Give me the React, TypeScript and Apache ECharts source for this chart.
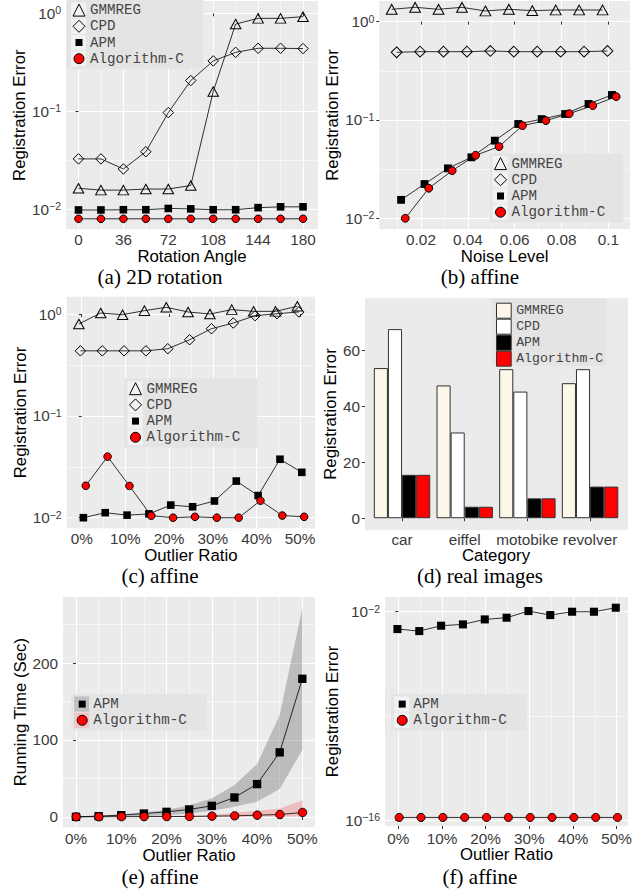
import React, { useEffect, useRef } from 'react';
import * as echarts from 'echarts';

// ---------------- data ----------------
const seriesNames = ['GMMREG', 'CPD', 'APM', 'Algorithm-C'];

// (a) 2D rotation
const angles = [0, 18, 36, 54, 72, 90, 108, 126, 144, 162, 180];
const aGMMREG = [0.0164, 0.0157, 0.0157, 0.0161, 0.0161, 0.0175, 0.159, 0.778, 0.889, 0.889, 0.925];
const aCPD = [0.0327, 0.0327, 0.0258, 0.0387, 0.097, 0.206, 0.327, 0.4, 0.44, 0.44, 0.437];
const aAPM = [0.00985, 0.00985, 0.0099, 0.0099, 0.0102, 0.0101, 0.0099, 0.0099, 0.0104, 0.0106, 0.0106];
const aAlgC = [0.008, 0.008, 0.008, 0.008, 0.008, 0.008, 0.008, 0.008, 0.008, 0.008, 0.008];
const aXTicks = [0, 36, 72, 108, 144, 180];
const aXMinor = [18, 54, 90, 126, 162];

// (b) affine, noise
const noiseLevels = [0.01, 0.02, 0.03, 0.04, 0.05, 0.06, 0.07, 0.08, 0.09, 0.1];
const bGMMREG = [1.335, 1.399, 1.335, 1.399, 1.284, 1.335, 1.294, 1.314, 1.314, 1.314];
const bCPD = [0.488, 0.495, 0.495, 0.495, 0.503, 0.495, 0.495, 0.495, 0.495, 0.503];
const bAPM = [0.0154, 0.0223, 0.0322, 0.0417, 0.0616, 0.091, 0.102, 0.115, 0.1455, 0.1796];
const bAlgC = [0.01, 0.0202, 0.0305, 0.0437, 0.0536, 0.0876, 0.0985, 0.116, 0.14, 0.1727];
const bDodge = [-0.0025, -0.0004, 0.0015, 0.0033];
const bXTicks = [0.02, 0.04, 0.06, 0.08, 0.1];
const bXMinor = [0.01, 0.03, 0.05, 0.07, 0.09];

// (c) affine, outliers
const outlierRatios = [0, 0.05, 0.1, 0.15, 0.2, 0.25, 0.3, 0.35, 0.4, 0.45, 0.5];
const cGMMREG = [0.798, 1.023, 0.984, 1.079, 1.164, 1.047, 1.0, 1.104, 1.062, 1.062, 1.19];
const cCPD = [0.435, 0.435, 0.435, 0.435, 0.456, 0.559, 0.717, 0.816, 0.963, 1.007, 1.047];
const cAPM = [0.01, 0.0112, 0.0106, 0.0109, 0.0133, 0.0128, 0.0146, 0.0229, 0.0165, 0.0375, 0.0279];
const cAlgC = [0.0206, 0.0398, 0.0205, 0.01046, 0.01, 0.0102, 0.01, 0.01, 0.0147, 0.0105, 0.0102];
const cDodge = [-0.0065, -0.003, 0.0038, 0.0092];

const pctTicks = [0, 0.1, 0.2, 0.3, 0.4, 0.5];
const pctMinor = [0.05, 0.15, 0.25, 0.35, 0.45];
const logTicks = [-2, -1, 0];
const logMinor = [-1.5, -0.5];

// (d) real images
const categories = ['car', 'eiffel', 'motobike', 'revolver'];
const dGMMREG = [53.6, 47.4, 53.2, 48.2];
const dCPD = [67.5, 30.6, 45.2, 53.2];
const dAPM = [15.5, 4.1, 7.1, 11.3];
const dAlgC = [15.5, 4.1, 7.1, 11.3];
const dYTicks = [0, 20, 40, 60];

// (e) running time
const eAPM = [0, 0.9, 2.2, 4.3, 6.5, 9.6, 14.3, 25.2, 42.6, 83.9, 179.6];
const eAlgC = [0, 0.1, 0.2, 0.3, 0.4, 0.5, 0.9, 1.3, 2.2, 3.0, 5.7];
const eAPMLow = [0, 0.2, 0.6, 0.9, 2.2, 4.3, 7.8, 13, 19.6, 36.1, 87];
const eAPMHigh = [0.3, 1.8, 3.5, 6, 9, 15.2, 24, 41.3, 68.7, 132.6, 271.7];
const eAlgLow = [0, 0, 0, 0, 0, 0, 0, 0.2, 0.3, 0.4, 0.5];
const eAlgHigh = [0.3, 0.4, 0.6, 0.8, 1.0, 1.3, 2.2, 5.7, 7.8, 11, 21.7];
const eYTicks = [0, 100, 200];
const eYMinor = [50, 150, 250];
const eDodge = [0, 0.0005];

// (f) registration error, exact
const fAPM = [6.84e-4, 5.0e-4, 1.15e-3, 1.41e-3, 3.05e-3, 3.96e-3, 1.11e-2, 5.97e-3, 1.0e-2, 1.0e-2, 1.86e-2];
const fAlgC = [1.5e-16, 1.5e-16, 1.5e-16, 1.5e-16, 1.5e-16, 1.5e-16, 1.5e-16, 1.5e-16, 1.5e-16, 1.5e-16, 1.5e-16];
const fYTicks = [-16, -2];
const fYMinor = [-9];
const fDodge = [-0.002, 0.002];

// ---------------- styles ----------------
const SANS = 'Liberation Sans';
const MONO = 'Liberation Mono';
const SERIF = 'Liberation Serif';
const PANEL = '#ebebeb';
const TICK_COLOR = '#333333';
const LABEL_COLOR = '#3a3a3a';
const TICK_FS = 15.3;
const TITLE_FS = 16.8;
const LEGEND_FS = 14.2;
const LEGEND_PITCH = 16.2;
const CREAM = '#fdf7e9';

const HOLLOW = { color: 'rgba(0,0,0,0)', borderColor: '#000', borderWidth: 1 };
const SOLID_SQ = { color: '#000', borderColor: '#000', borderWidth: 0 };
const RED_DOT = { color: '#ff0000', borderColor: '#000', borderWidth: 1 };

const SYM: Record<string, any> = {
  GMMREG: { symbol: 'triangle', size: [10.5, 9.5], itemStyle: HOLLOW },
  CPD: { symbol: 'diamond', size: [10.5, 10.5], itemStyle: HOLLOW },
  APM: { symbol: 'rect', size: [7.6, 7.6], itemStyle: SOLID_SQ },
  'Algorithm-C': { symbol: 'circle', size: [7.6, 7.6], itemStyle: RED_DOT },
};

const SQUARE_ICON = 'path://M0,0M12,12M2.5,2.5L9.5,2.5L9.5,9.5L2.5,9.5Z';
const CIRCLE_ICON = 'path://M0,0M12,12M1,6A5,5,0,1,1,11,6A5,5,0,1,1,1,6Z';
const LEGEND_ITEM: Record<string, any> = {
  GMMREG: { name: 'GMMREG', icon: 'triangle', itemStyle: { ...HOLLOW } },
  CPD: { name: 'CPD', icon: 'diamond', itemStyle: { ...HOLLOW } },
  APM: { name: 'APM', icon: SQUARE_ICON, itemStyle: { ...SOLID_SQ } },
  'Algorithm-C': { name: 'Algorithm-C', icon: CIRCLE_ICON, itemStyle: { ...RED_DOT } },
};

const lg = (v: number) => Math.log10(v);
const ident = (v: number) => v;
const pct = (v: number) => Math.round(v * 100) + '%';
const supLabel = (v: number) => {
  const e = Math.round(v);
  const s = e < 0 ? '\u2212' + -e : String(e);
  return `{b|10}{s|${s}}`;
};
const RICH = {
  b: { fontFamily: SANS, fontSize: TICK_FS, color: LABEL_COLOR, lineHeight: 17 },
  s: { fontFamily: SANS, fontSize: 10.5, color: LABEL_COLOR, lineHeight: 8, verticalAlign: 'top' },
};
const NAME_STYLE = { fontFamily: SANS, fontSize: TITLE_FS, color: '#000', lineHeight: 15 };

function xAxisPair(grid: number, min: number, max: number, major: number[], minor: number[], fmt: any, name: string, nameGap: number, margin: number) {
  return [
    {
      type: 'value', gridIndex: grid, min, max, name, nameLocation: 'middle', nameGap: nameGap + 1,
      nameTextStyle: NAME_STYLE,
      axisLine: { show: false },
      axisTick: { show: true, length: 3, lineStyle: { color: TICK_COLOR, width: 1 }, customValues: major },
      axisLabel: { customValues: major, formatter: fmt, margin: margin + 0.5, fontFamily: SANS, fontSize: TICK_FS, color: LABEL_COLOR, lineHeight: 14 },
      splitLine: { show: true, lineStyle: { color: '#ffffff', width: 1.1 } },
    },
    {
      type: 'value', gridIndex: grid, min, max, position: 'bottom',
      axisLine: { show: false },
      axisTick: { show: false, customValues: minor },
      axisLabel: { show: false, customValues: minor },
      splitLine: { show: true, lineStyle: { color: '#ffffff', width: 0.55 } },
    },
  ];
}

function yAxisPair(grid: number, min: number, max: number, major: number[], minor: number[], fmt: any, rich: any, name: string, nameGap: number) {
  return [
    {
      type: 'value', gridIndex: grid, min, max, name, nameLocation: 'middle', nameGap: nameGap + 1,
      nameTextStyle: NAME_STYLE,
      axisLine: { show: false },
      axisTick: { show: true, length: 3, lineStyle: { color: TICK_COLOR, width: 1 }, customValues: major },
      axisLabel: { customValues: major, formatter: fmt, margin: 5, fontFamily: SANS, fontSize: TICK_FS, color: LABEL_COLOR, rich },
      splitLine: { show: true, lineStyle: { color: '#ffffff', width: 1.1 } },
    },
    {
      type: 'value', gridIndex: grid, min, max, position: 'left',
      axisLine: { show: false },
      axisTick: { show: false, customValues: minor },
      axisLabel: { show: false, customValues: minor },
      splitLine: { show: minor.length > 0, lineStyle: { color: '#ffffff', width: 0.55 } },
    },
  ];
}

function lineSeries(name: string, xs: number[], ys: number[], dx: number, axis: number, tf: (v: number) => number, scale = 1) {
  const s = SYM[name];
  return {
    type: 'line', name, xAxisIndex: axis, yAxisIndex: axis,
    data: xs.map((x, i) => [x + dx, tf(ys[i])]),
    symbol: s.symbol, symbolSize: [s.size[0] * scale, s.size[1] * scale], itemStyle: s.itemStyle,
    lineStyle: { color: '#000', width: 0.8 },
    showSymbol: true, z: 3, emphasis: { disabled: true }, silent: true,
  };
}

// ribbon drawn as one polygon through the axis scale
function bandSeries(xs: number[], low: number[], high: number[], dx: number, axis: number, color: string) {
  return {
    type: 'custom', xAxisIndex: axis, yAxisIndex: axis, silent: true, z: 1,
    data: xs.map((x, i) => [x + dx, low[i], high[i]]),
    encode: { x: 0, y: [1, 2] },
    renderItem: (params: any, api: any) => {
      if (params.dataIndex !== 0) return null;
      const upper = xs.map((x, i) => api.coord([x + dx, high[i]]));
      const lower = xs.map((x, i) => api.coord([x + dx, low[i]])).reverse();
      return { type: 'polygon', shape: { points: upper.concat(lower) }, style: { fill: color, stroke: 'none' } };
    },
  };
}

// legend block: box centred on (box centre y), items evenly pitched
function lineLegend(names: string[], iconCx: number, boxX: number, boxW: number, centerY: number, keyFills: string[]) {
  const pitch = LEGEND_PITCH;
  const n = names.length;
  const firstCy = centerY - ((n - 1) / 2) * pitch;
  const boxH = n * pitch + 4;
  const legend = {
    orient: 'vertical', left: iconCx - 6, top: firstCy - pitch / 2, padding: 0, itemGap: 0,
    itemWidth: 12, itemHeight: 12, selectedMode: false, z: 6,
    textStyle: { fontFamily: MONO, fontSize: LEGEND_FS, color: '#444', lineHeight: pitch },
    data: names.map((nm) => LEGEND_ITEM[nm]),
  };
  const els: any[] = [
    { type: 'rect', z: 5, z2: 0, silent: true, shape: { x: boxX, y: centerY - boxH / 2, width: boxW, height: boxH }, style: { fill: '#e4e4e4' } },
  ];
  names.forEach((_, i) => {
    els.push({
      type: 'rect', z: 5, z2: 1, silent: true,
      shape: { x: iconCx - 7.5, y: firstCy + i * pitch - pitch / 2 + 0.5, width: 15, height: pitch - 1 },
      style: { fill: keyFills[i] },
    });
  });
  return { legend, els };
}

function buildOption() {
  const xAxis: any[] = [];
  const yAxis: any[] = [];
  const series: any[] = [];

  // grid 0: (a)
  xAxis.push(...xAxisPair(0, -10, 192, aXTicks, aXMinor, (v: number) => String(v), 'Rotation Angle', 15.0, 2.4));
  yAxis.push(...yAxisPair(0, -2.204, 0.126, logTicks, logMinor, supLabel, RICH, 'Registration Error', 34.6));
  // grid 1: (b)
  xAxis.push(...xAxisPair(1, 0.0022, 0.1092, bXTicks, bXMinor, (v: number) => String(+v.toFixed(2)), 'Noise Level', 14.7, 2.6));
  yAxis.push(...yAxisPair(1, -2.109, 0.21, logTicks, logMinor, supLabel, RICH, 'Registration Error', 33.9));
  // grid 2: (c)
  xAxis.push(...xAxisPair(2, -0.0344, 0.534, pctTicks, pctMinor, pct, 'Outlier Ratio', 16.3, 2.4));
  yAxis.push(...yAxisPair(2, -2.104, 0.17, logTicks, logMinor, supLabel, RICH, 'Registration Error', 35.3));
  // grid 3: (d) index 6
  xAxis.push({
    type: 'category', gridIndex: 3, data: categories, name: 'Category', nameLocation: 'middle', nameGap: 15.9,
    nameTextStyle: NAME_STYLE,
    axisLine: { show: false },
    axisTick: { show: true, alignWithLabel: true, length: 3, lineStyle: { color: TICK_COLOR, width: 1 } },
    axisLabel: { margin: 2, fontFamily: SANS, fontSize: TICK_FS, color: LABEL_COLOR, interval: 0, lineHeight: 14 },
    splitLine: { show: false },
  });
  yAxis.push({
    type: 'value', gridIndex: 3, min: -4.2, max: 78.6, offset: 5.7, name: 'Registration Error', nameLocation: 'middle', nameGap: 21.6,
    nameTextStyle: NAME_STYLE,
    axisLine: { show: false },
    axisTick: { show: true, length: 3, lineStyle: { color: TICK_COLOR, width: 1 }, customValues: dYTicks },
    axisLabel: { customValues: dYTicks, margin: 5, fontFamily: SANS, fontSize: TICK_FS, color: LABEL_COLOR },
    splitLine: { show: false },
  });
  // grid 4: (e) index 7,8
  xAxis.push(...xAxisPair(4, -0.0287, 0.528, pctTicks, pctMinor, pct, 'Outlier Ratio', 16, 3.3));
  yAxis.push(...yAxisPair(4, -13.6, 286, eYTicks, eYMinor, (v: number) => String(v), undefined, 'Running Time (Sec)', 30.6));
  // grid 5: (f) index 9,10
  xAxis.push(...xAxisPair(5, -0.0305, 0.526, pctTicks, pctMinor, pct, 'Outlier Ratio', 17.3, 4.5));
  yAxis.push(...yAxisPair(5, -16.4, -1.01, fYTicks, fYMinor, supLabel, RICH, 'Registration Error', 39.9));

  // (a) series: axis index 0
  [aGMMREG, aCPD, aAPM, aAlgC].forEach((ys, k) => series.push(lineSeries(seriesNames[k], angles, ys, 0, 0, lg)));
  // (b): axis index 2
  [bGMMREG, bCPD, bAPM, bAlgC].forEach((ys, k) => series.push(lineSeries(seriesNames[k], noiseLevels, ys, bDodge[k], 2, lg, 1.03)));
  // (c): axis index 4
  [cGMMREG, cCPD, cAPM, cAlgC].forEach((ys, k) => series.push(lineSeries(seriesNames[k], outlierRatios, ys, cDodge[k], 4, lg)));
  // (d): bars axis index 6
  const barFill = [CREAM, '#ffffff', '#000000', '#ff0000'];
  [dGMMREG, dCPD, dAPM, dAlgC].forEach((vals, k) =>
    series.push({
      type: 'bar', name: seriesNames[k], xAxisIndex: 6, yAxisIndex: 6, data: vals,
      barGap: '0%', barCategoryGap: '10%', silent: true,
      itemStyle: { color: barFill[k], borderColor: '#333', borderWidth: 1 },
    })
  );
  // (e): axis index 7
  series.push(bandSeries(outlierRatios, eAPMLow, eAPMHigh, eDodge[0], 7, 'rgba(0,0,0,0.2)'));
  series.push(bandSeries(outlierRatios, eAlgLow, eAlgHigh, eDodge[1], 7, 'rgba(255,0,0,0.2)'));
  series.push(lineSeries('APM', outlierRatios, eAPM, eDodge[0], 7, ident, 1.1));
  series.push(lineSeries('Algorithm-C', outlierRatios, eAlgC, eDodge[1], 7, ident, 1.1));
  // (f): axis index 9
  series.push(lineSeries('APM', outlierRatios, fAPM, fDodge[0], 9, lg, 1.06));
  series.push(lineSeries('Algorithm-C', outlierRatios, fAlgC, fDodge[1], 9, lg, 1.06));

  const grid = [
    { left: 66, top: 1, width: 252, height: 228.3 },
    { left: 379.3, top: 1, width: 250.7, height: 228 },
    { left: 66.7, top: 296.7, width: 248.3, height: 231.6 },
    { left: 370.7, top: 298, width: 250.7, height: 232 },
    { left: 63, top: 597, width: 252, height: 230.3 },
    { left: 385, top: 597, width: 243, height: 229 },
  ].map((g, i) => ({ ...g, show: i !== 3, backgroundColor: PANEL, borderWidth: 0, containLabel: false }));

  const K = '#f2f2f2';
  const la = lineLegend(seriesNames, 78.5, 66.7, 136.6, 34.4, [K, K, K, K]);
  const lb = lineLegend(seriesNames, 500, 490, 133.3, 187.9, [K, K, K, K]);
  const lc = lineLegend(seriesNames, 135, 124.3, 133, 413, [K, K, K, K]);
  const le = lineLegend(['APM', 'Algorithm-C'], 81.7, 71, 135.7, 712.2, ['#c0c0c0', '#f3c1c1']);
  const lf = lineLegend(['APM', 'Algorithm-C'], 401.7, 391, 135.7, 712.2, [K, K]);

  const legendD = {
    orient: 'vertical', left: 496, top: 302.7, padding: 0, itemGap: 0, itemWidth: 14.7, itemHeight: 15,
    selectedMode: false, z: 6,
    textStyle: { fontFamily: MONO, fontSize: 13.2, color: '#444', lineHeight: 15 },
    data: seriesNames.map((n, k) => ({ name: n, icon: 'rect', itemStyle: { color: barFill[k], borderColor: '#333', borderWidth: 1 } })),
  };

  const graphicEls: any[] = [
    { type: 'rect', z: 0, silent: true, shape: { x: 365, y: 298, width: 263, height: 232 }, style: { fill: PANEL } },
    { type: 'rect', z: 5, silent: true, shape: { x: 491.7, y: 298.3, width: 115, height: 67.7 }, style: { fill: '#e4e4e4' } },
    ...la.els, ...lb.els, ...lc.els, ...le.els, ...lf.els,
  ];

  const captionStyle = { fontFamily: SERIF, fontSize: 21, fontWeight: 'normal', color: '#000', lineHeight: 18 };
  const captions = [
    ['(a) 2D rotation', 160, 276.5], ['(b) affine', 480, 276.5],
    ['(c) affine', 160, 576], ['(d) real images', 480, 576],
    ['(e) affine', 160, 876.5], ['(f) affine', 480, 876.5],
  ].map(([t, x, y]) => ({ text: t, left: x, top: y, padding: 0, textAlign: 'center', textVerticalAlign: 'middle', textStyle: captionStyle }));

  return {
    animation: false,
    backgroundColor: '#ffffff',
    textStyle: { fontFamily: SANS },
    title: captions,
    grid,
    xAxis,
    yAxis,
    series,
    legend: [la.legend, lb.legend, lc.legend, legendD, le.legend, lf.legend],
    graphic: { elements: graphicEls },
  };
}

export default function App() {
  const ref = useRef<HTMLDivElement>(null);
  useEffect(() => {
    if (!ref.current) return;
    const chart = echarts.init(ref.current, null, { renderer: 'svg' });
    chart.setOption(buildOption() as any);
    return () => chart.dispose();
  }, []);
  return <div ref={ref} style={{ position: 'absolute', left: 0, top: 0, width: 640, height: 895, background: '#fff' }} />;
}
